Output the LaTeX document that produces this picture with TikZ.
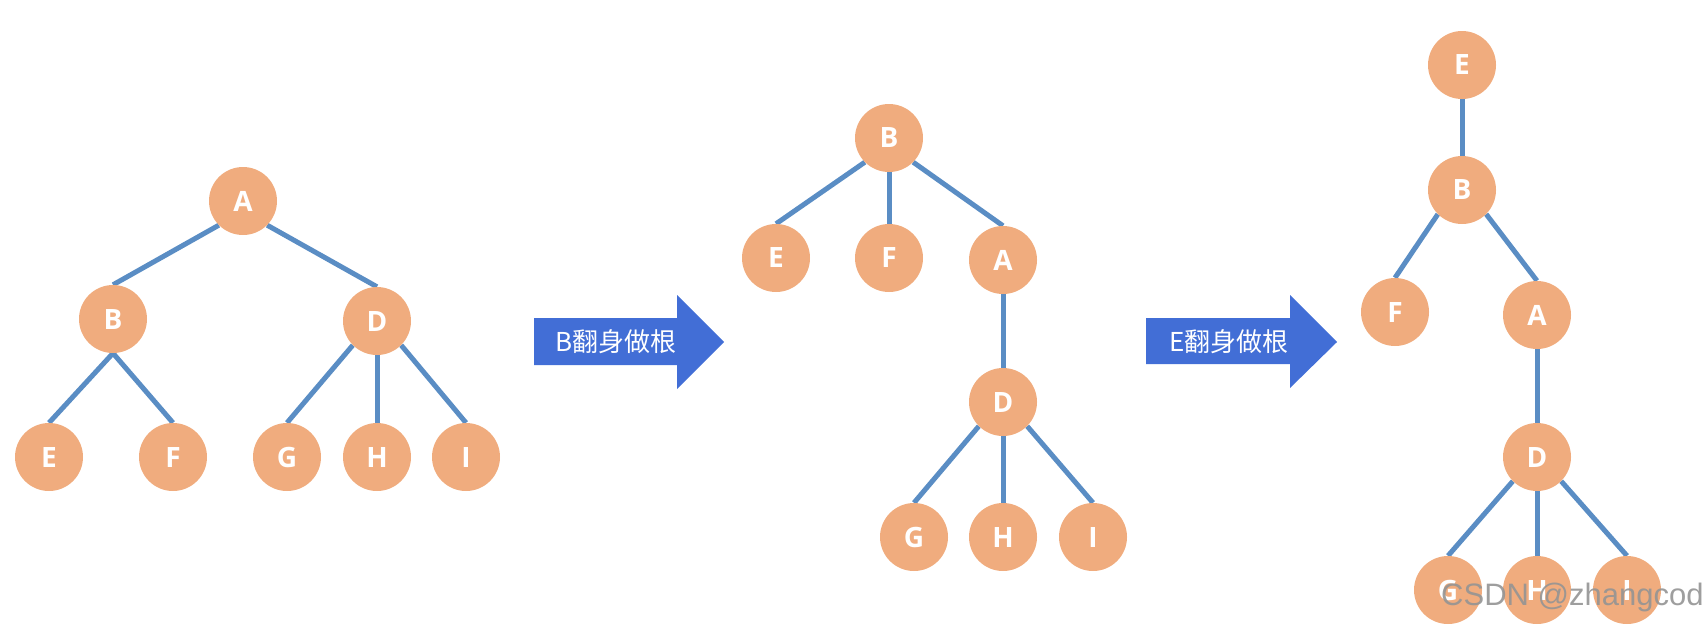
\documentclass[tikz,border=0pt]{standalone}
\usepackage{fontspec}
\setsansfont{Open Sans}
\newfontfamily\cjk{Noto Sans CJK SC}
\newfontfamily\wmfont{Liberation Sans}
\usetikzlibrary{backgrounds}
\definecolor{nodefill}{RGB}{240,172,126}
\definecolor{branchblue}{RGB}{90,141,196}
\definecolor{arrowblue}{RGB}{66,110,214}
\tikzset{tree node/.style={circle, fill=nodefill, minimum size=68pt, inner sep=0pt, text=white,
            font=\sffamily\bfseries\fontsize{28}{28}\selectfont},
         branch/.style={draw=branchblue, line width=5pt},
         turn arrow/.style={fill=arrowblue},
         turn text/.style={text=white, inner sep=0pt, font=\cjk\fontsize{26}{26}\selectfont}}

\begin{document}
\begin{tikzpicture}[x=1pt,y=-1pt]
        \useasboundingbox (0,0) rectangle (1705,627);
        % first tree
        \node[tree node] (a1) at (243,201) {A};
        \node[tree node] (b1) at (113,319) {B};
        \node[tree node] (d1) at (377,321) {D};
        \node[tree node] (e1) at (49,457) {E};
        \node[tree node] (f1) at (173,457) {F};
        \node[tree node] (g1) at (287,457) {G};
        \node[tree node] (h1) at (377,457) {H};
        \node[tree node] (i1) at (466,457) {I};
        %
        \fill[turn arrow] (534,318) -- (677,318) -- (677,295) -- (724,342) -- (677,389) -- (677,365) -- (534,365) -- cycle;
        \node[turn text] (turn1) at (616,342) {B翻身做根};
        % second tree
        \node[tree node] (b2) at (889,138) {B};
        \node[tree node] (e2) at (776,258) {E};
        \node[tree node] (f2) at (889,258) {F};
        \node[tree node] (a2) at (1003,260) {A};
        \node[tree node] (d2) at (1003,402) {D};
        \node[tree node] (g2) at (914,537) {G};
        \node[tree node] (h2) at (1003,537) {H};
        \node[tree node] (i2) at (1093,537) {I};
        %
        \fill[turn arrow] (1146,318) -- (1290,318) -- (1290,295) -- (1337,342) -- (1290,388) -- (1290,364) -- (1146,364) -- cycle;
        \node[turn text] (turn2) at (1229,342) {E翻身做根};
        % third tree
        \node[tree node] (e3) at (1462,65) {E};
        \node[tree node] (b3) at (1462,190) {B};
        \node[tree node] (f3) at (1395,312) {F};
        \node[tree node] (a3) at (1537,315) {A};
        \node[tree node] (d3) at (1537,457) {D};
        \node[tree node] (g3) at (1448,590) {G};
        \node[tree node] (h3) at (1537,590) {H};
        \node[tree node] (i3) at (1627,590) {I};
        %
        \begin{scope}[on background layer]
            \foreach \from/\side/\to in {a1/south west/b1,a1/south east/d1,b1/south/e1,b1/south/f1,
                                         d1/south west/g1,d1/south/h1,d1/south east/i1,
                                         b2/south west/e2,b2/south/f2,b2/south east/a2,a2/south/d2,
                                         d2/south west/g2,d2/south/h2,d2/south east/i2,
                                         e3/south/b3,b3/south west/f3,b3/south east/a3,a3/south/d3,
                                         d3/south west/g3,d3/south/h3,d3/south east/i3}
                \draw[branch] (\from.\side) -- (\to.north);
        \end{scope}
        \node[anchor=base west, inner sep=0pt, text=black!42, opacity=0.9,
              font=\wmfont\fontsize{31}{31}\selectfont] (mark) at (1441,605) {CSDN @zhangcod};
    \end{tikzpicture}
\end{document}
